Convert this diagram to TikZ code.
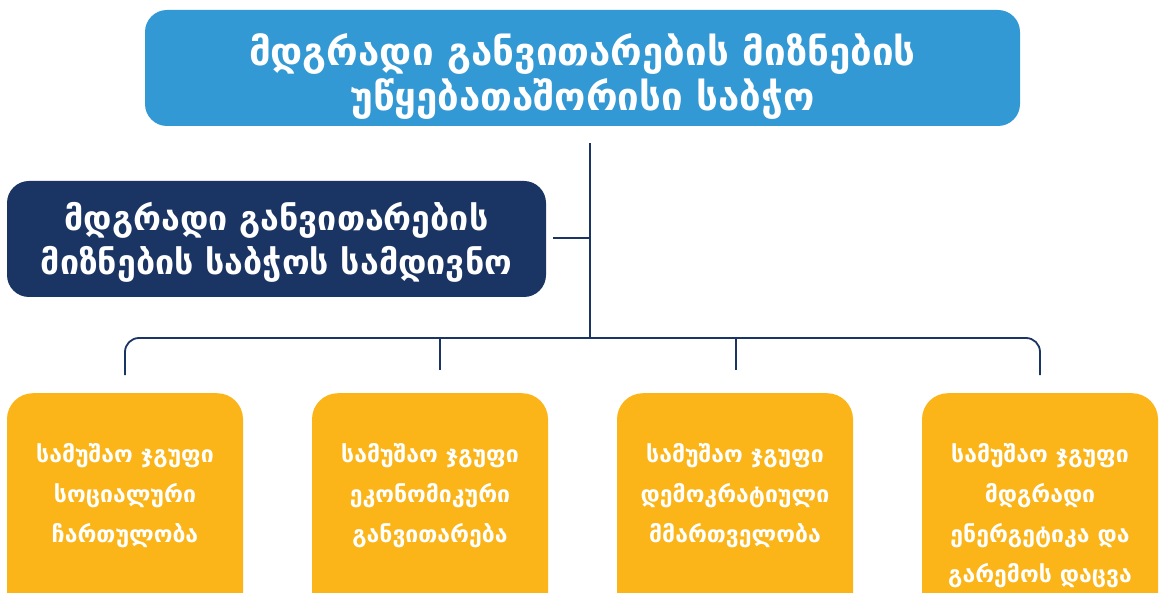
\documentclass[tikz,border=0pt]{standalone}
\usepackage{fontspec}
\newfontfamily\geo{DejaVu Sans}
\definecolor{topblue}{HTML}{3399D5}
\definecolor{navy}{HTML}{1A3464}
\definecolor{gold}{HTML}{FBB519}
\begin{document}
\begin{tikzpicture}[x=1pt,y=-1pt,
  box/.style={rounded corners=22pt, inner sep=0pt},
  topbox/.style={box, fill=topblue, minimum width=875pt, minimum height=116pt},
  secbox/.style={box, fill=navy, minimum width=539pt, minimum height=116pt},
  wgbox/.style={box, fill=gold, rounded corners=26pt, minimum width=236pt, minimum height=230pt, anchor=north},
  lbl/.style={text=white, align=center, inner sep=0pt},
  wgtext/.style={lbl, anchor=north, font=\geo\bfseries\fontsize{23}{40}\selectfont},
  conn/.style={draw=navy, line width=1.8pt}
]
\clip (0,0) rectangle (1161,593);
\fill[white] (0,0) rectangle (1161,593);

\node[topbox] (top) at (582.5,68) {};
\node[lbl, font=\geo\bfseries\fontsize{38.5}{45}\selectfont] (toptext) at (582.5,76)
  {მდგრადი განვითარების მიზნების\\უწყებათაშორისი საბჭო};
\node[secbox] (sec) at (276.5,239) {};
\node[lbl, font=\geo\bfseries\fontsize{34}{44}\selectfont] (sectext) at (276.5,242)
  {მდგრადი განვითარების\\მიზნების საბჭოს სამდივნო};

\node[wgbox] (g1) at (125,393) {};
\node[wgbox] (g2) at (430,393) {};
\node[wgbox] (g3) at (735,393) {};
\node[wgbox] (g4) at (1040,393) {};

\node[wgtext] (t1) at (125,443) {სამუშაო ჯგუფი\\სოციალური\\ჩართულობა};
\node[wgtext] (t2) at (430,443) {სამუშაო ჯგუფი\\ეკონომიკური\\განვითარება};
\node[wgtext] (t3) at (735,443) {სამუშაო ჯგუფი\\დემოკრატიული\\მმართველობა};
\node[wgtext] (t4) at (1040,443) {სამუშაო ჯგუფი\\მდგრადი\\ენერგეტიკა და\\გარემოს დაცვა};

\coordinate (tj) at (590,143);
\coordinate (hub) at (590,238);
\coordinate (bus) at (590,338);
\coordinate (secr) at (553,238);
\coordinate (d1) at (125,375);
\coordinate (d4) at (1040,375);
\coordinate (b2) at (440,338);
\coordinate (e2) at (440,370);
\coordinate (b3) at (736,338);
\coordinate (e3) at (736,370);

\draw[conn] (tj) -- (bus);
\draw[conn] (secr) -- (hub);
\draw[conn, rounded corners=14pt] (d1) |- (bus) -| (d4);
\draw[conn] (b2) -- (e2);
\draw[conn] (b3) -- (e3);
\end{tikzpicture}
\end{document}
